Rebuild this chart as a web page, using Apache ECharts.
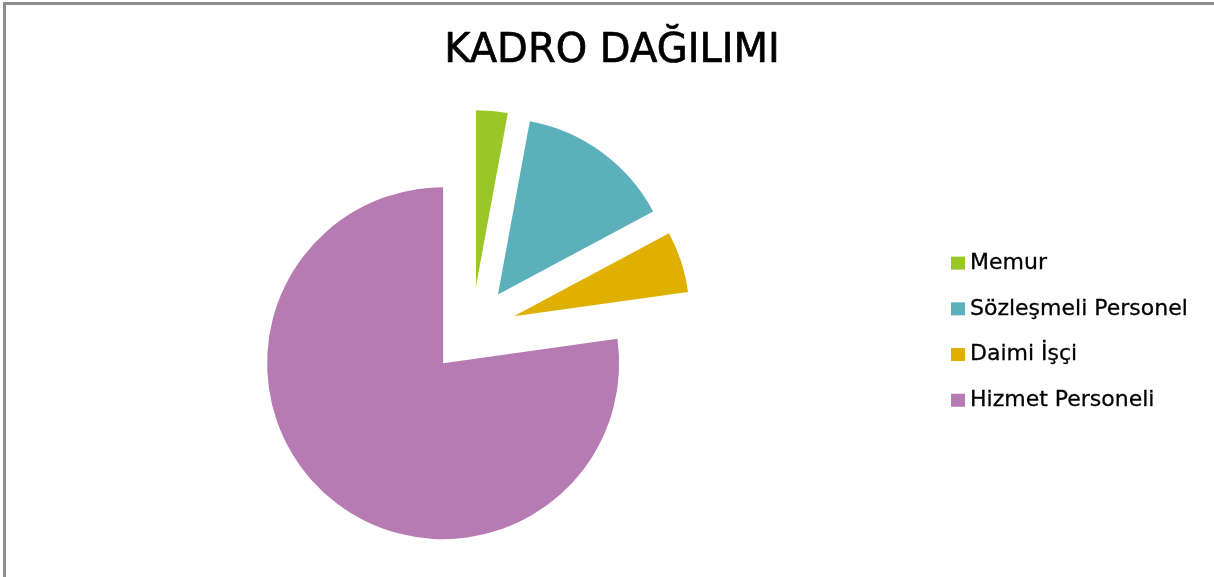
<!DOCTYPE html>
<html>
<head>
    <meta charset="utf-8">
    <title>KADRO DAĞILIMI</title>
    <script src="https://cdn.jsdelivr.net/npm/echarts@6/dist/echarts.min.js"></script>
    <style>
        body { margin: 0; background: #fff; }
    </style>
</head>
<body>
    <div id="main" style="width: 1214px;height:577px;"></div>
    <script type="text/javascript">
        // veriler
        var kategoriler = ['Memur', 'Sözleşmeli Personel', 'Daimi İşçi', 'Hizmet Personeli'];
        var degerler = [15, 74, 29, 400];
        var renkler = ['#9ac627', '#5bb0ba', '#dfb000', '#b77bb4'];

        var myChart = echarts.init(document.getElementById("main"));

        var pieData = [];
        for (var i = 0; i < kategoriler.length; i++) {
            pieData.push({
                name: kategoriler[i],
                value: degerler[i],
                selected: true,
                itemStyle: { color: renkler[i] }
            });
        }

        var option = {
            animation: false,
            title: {
                text: 'KADRO DAĞILIMI',
                left: 607,
                textAlign: 'center',
                top: 27,
                textStyle: {
                    fontFamily: 'DejaVu Sans',
                    fontSize: 40,
                    fontWeight: 'normal',
                    color: '#000',
                    textBorderColor: '#000',
                    textBorderWidth: 0.7
                }
            },
            legend: {
                orient: 'vertical',
                left: 951,
                top: 252,
                padding: 0,
                itemWidth: 14,
                itemHeight: 13,
                itemGap: 23.4,
                icon: 'rect',
                selectedMode: false,
                data: kategoriler,
                textStyle: {
                    fontFamily: 'DejaVu Sans',
                    fontSize: 22,
                    lineHeight: 22,
                    color: '#000',
                    textBorderColor: '#000',
                    textBorderWidth: 0.3
                }
            },
            graphic: [{
                type: 'polyline',
                shape: { points: [[4.5, 577], [4.5, 3.5], [1214, 3.5]] },
                style: { stroke: '#8c8c8c', lineWidth: 3, fill: null }
            }],
            series: [{
                name: 'Kadro',
                type: 'pie',
                center: [472, 330],
                radius: 176,
                startAngle: 90,
                clockwise: true,
                selectedMode: 'multiple',
                selectedOffset: 44,
                label: { show: false },
                labelLine: { show: false },
                emphasis: { disabled: true },
                data: pieData
            }]
        };

        myChart.setOption(option);
    </script>
</body>
</html>
